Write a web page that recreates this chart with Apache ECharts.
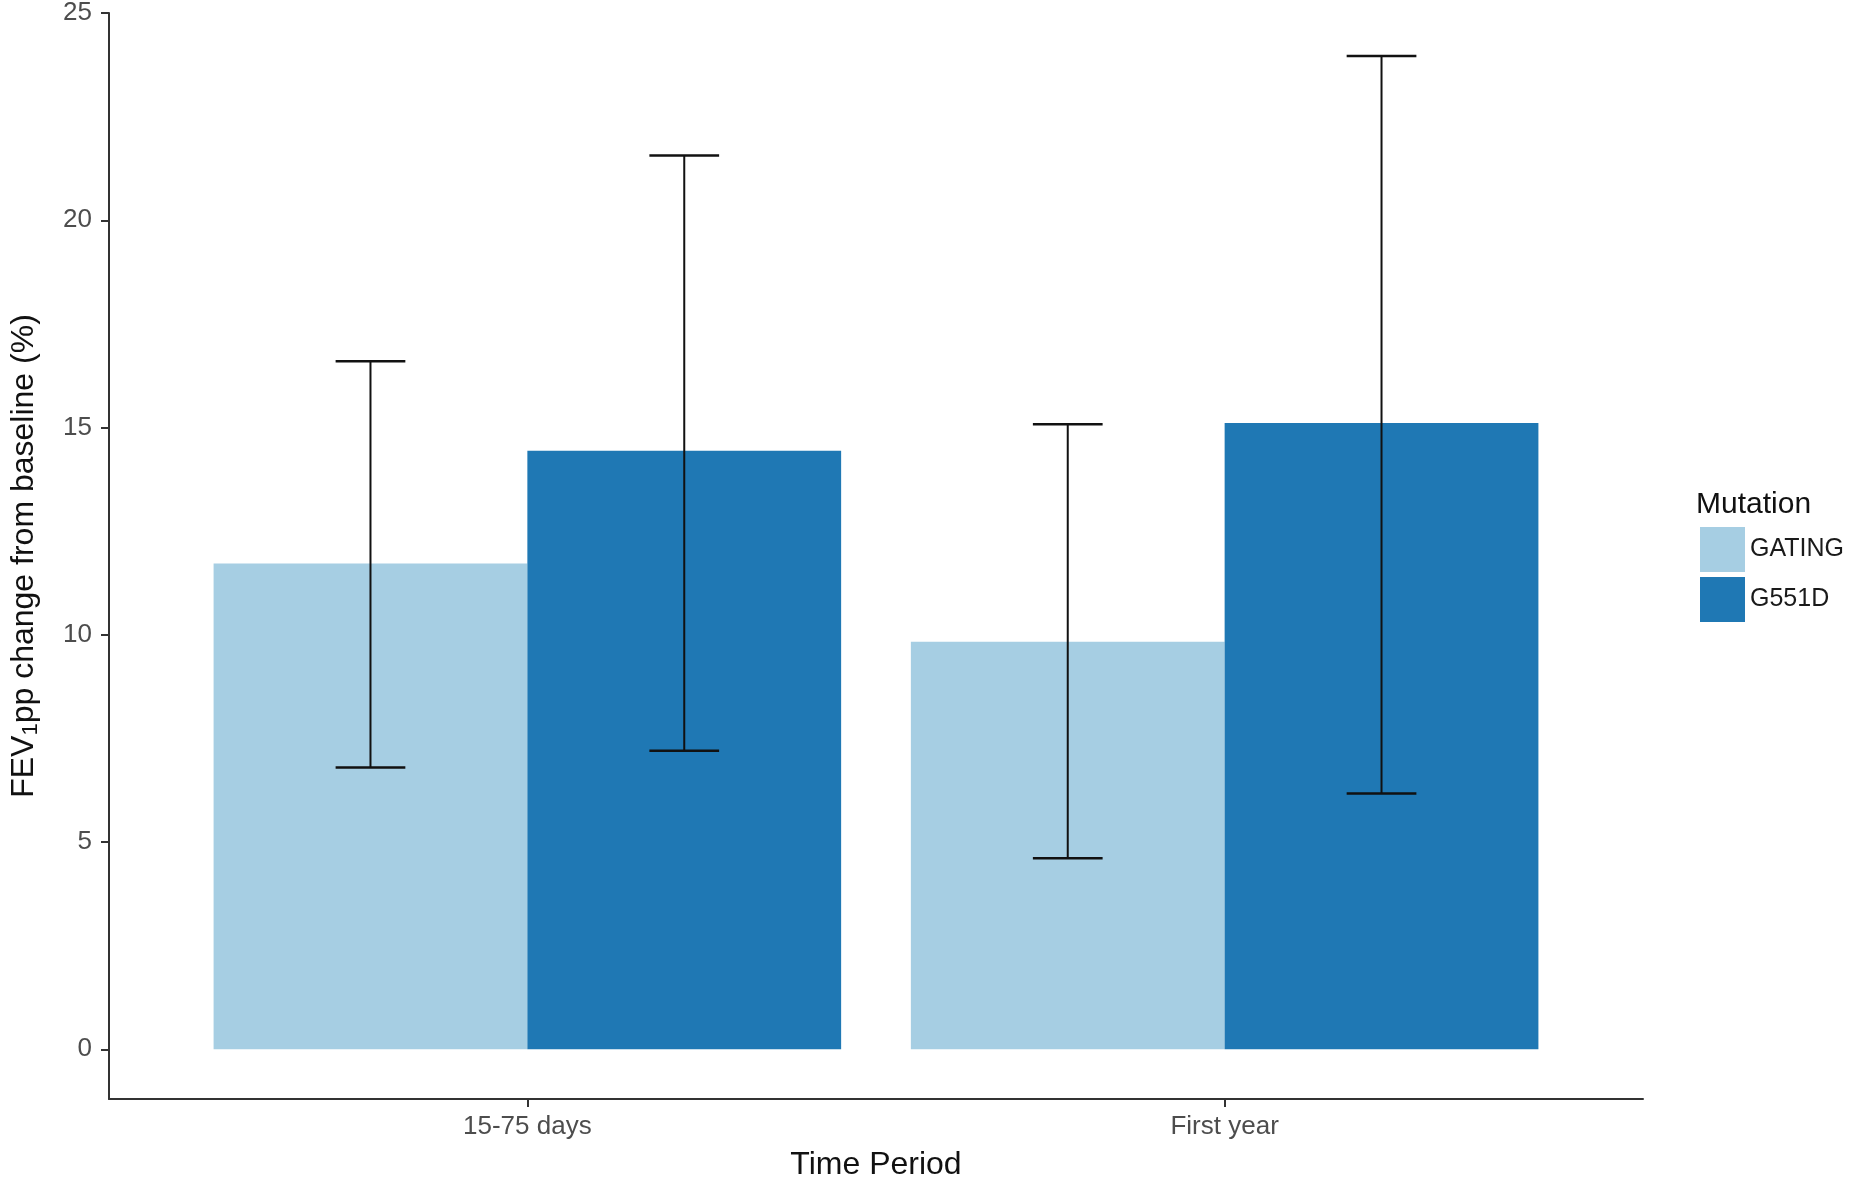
<!DOCTYPE html>
<html>
<head>
<meta charset="utf-8">
<script src="https://cdn.jsdelivr.net/npm/echarts@6/dist/echarts.min.js"></script>
<style>html,body{margin:0;padding:0;background:#fff}#c{width:1850px;height:1186px}</style>
</head>
<body>
<div id="c"></div>
<script>
var categories = ['15-75 days', 'First year'];
var seriesNames = ['GATING', 'G551D'];
var gatingMean = [11.72, 9.83];
var gatingLow = [6.80, 4.61];
var gatingHigh = [16.60, 15.08];
var g551dMean = [14.44, 15.11];
var g551dLow = [7.20, 6.17];
var g551dHigh = [21.56, 23.96];
var yTicks = [0, 5, 10, 15, 20, 25];
var colors = ['#A6CEE3', '#1F78B4'];

var barW = 0.45, capHalf = 0.05;
function barRender(offset, color) {
  return function (params, api) {
    var c = api.value(0), v = api.value(1);
    var p0 = api.coord([c + offset, v]);
    var p1 = api.coord([c + offset + barW, 0]);
    return { type: 'rect', shape: { x: p0[0], y: p0[1], width: p1[0] - p0[0], height: p1[1] - p0[1] }, style: { fill: color } };
  };
}
function errRender(offset) {
  return function (params, api) {
    var c = api.value(0) + offset + barW / 2, lo = api.value(1), hi = api.value(2);
    var a = api.coord([c, lo]), b = api.coord([c, hi]);
    var l1 = api.coord([c - capHalf, lo]), r1 = api.coord([c + capHalf, lo]);
    var l2 = api.coord([c - capHalf, hi]), r2 = api.coord([c + capHalf, hi]);
    return { type: 'group', children: [
      { type: 'line', shape: { x1: a[0], y1: a[1], x2: b[0], y2: b[1] }, style: { stroke: '#111', lineWidth: 2 } },
      { type: 'line', shape: { x1: l1[0], y1: l1[1], x2: r1[0], y2: r1[1] }, style: { stroke: '#111', lineWidth: 2.5 } },
      { type: 'line', shape: { x1: l2[0], y1: l2[1], x2: r2[0], y2: r2[1] }, style: { stroke: '#111', lineWidth: 2.5 } }
    ]};
  };
}
function toData(means) { return means.map(function (m, i) { return [i + 1, m]; }); }
function toErr(lo, hi) { return lo.map(function (l, i) { return [i + 1, l, hi[i]]; }); }

var chart = echarts.init(document.getElementById('c'), null, { renderer: 'canvas' });
var font = 'Liberation Sans, Arial, sans-serif';
chart.setOption({
  animation: false,
  backgroundColor: '#fff',
  textStyle: { fontFamily: font },
  grid: { left: 101, right: 207, top: 10, bottom: 84, containLabel: false },
  title: { text: 'Mutation', left: 1691, top: 485, textStyle: { fontFamily: font, fontSize: 30, fontWeight: 'normal', color: '#111' } },
  legend: {
    data: seriesNames.map(function (n, i) { return { name: n, itemStyle: { color: colors[i] } }; }),
    orient: 'vertical', left: 1695, top: 522, itemWidth: 45, itemHeight: 45, itemGap: 5,
    icon: 'rect', textStyle: { fontFamily: font, fontSize: 25, color: '#1a1a1a' }
  },
  xAxis: {
    type: 'value', min: 0.4, max: 2.6,
    name: 'Time Period', nameLocation: 'middle', nameGap: 50,
    nameTextStyle: { fontFamily: font, fontSize: 32, color: '#111' },
    axisLine: { show: true, onZero: false, lineStyle: { color: '#333', width: 2 } },
    axisTick: { show: true, length: 8, customValues: [1, 2], lineStyle: { color: '#333', width: 2 } },
    axisLabel: { customValues: [1, 2], margin: 15, fontSize: 26, color: '#4D4D4D', fontFamily: font,
      formatter: function (v) { return categories[Math.round(v) - 1]; } },
    splitLine: { show: false }
  },
  yAxis: {
    type: 'value', min: -1.2, max: 25,
    name: '{a|FEV}{s|1}{a|pp change from baseline (%)}', nameLocation: 'middle', nameGap: 67,
    nameTextStyle: { fontFamily: font, fontSize: 32, color: '#111',
      rich: { a: { fontFamily: font, fontSize: 32, color: '#111' }, s: { fontFamily: font, fontSize: 22, color: '#111', padding: [14, 0, 0, 0] } } },
    axisLine: { show: true, onZero: false, lineStyle: { color: '#333', width: 2 } },
    axisTick: { show: true, length: 8, customValues: yTicks, lineStyle: { color: '#333', width: 2 } },
    axisLabel: { customValues: yTicks, margin: 17, fontSize: 26, color: '#4D4D4D', fontFamily: font },
    splitLine: { show: false }
  },
  series: [
    { name: 'GATING', type: 'custom', renderItem: barRender(-barW, colors[0]), itemStyle: { color: colors[0] }, data: toData(gatingMean), encode: { x: 0, y: 1 }, z: 1 },
    { name: 'G551D', type: 'custom', renderItem: barRender(0, colors[1]), itemStyle: { color: colors[1] }, data: toData(g551dMean), encode: { x: 0, y: 1 }, z: 1 },
    { name: 'errG', type: 'custom', renderItem: errRender(-barW), data: toErr(gatingLow, gatingHigh), encode: { x: 0, y: [1, 2] }, z: 5 },
    { name: 'errD', type: 'custom', renderItem: errRender(0), data: toErr(g551dLow, g551dHigh), encode: { x: 0, y: [1, 2] }, z: 5 }
  ]
});
</script>
</body>
</html>
